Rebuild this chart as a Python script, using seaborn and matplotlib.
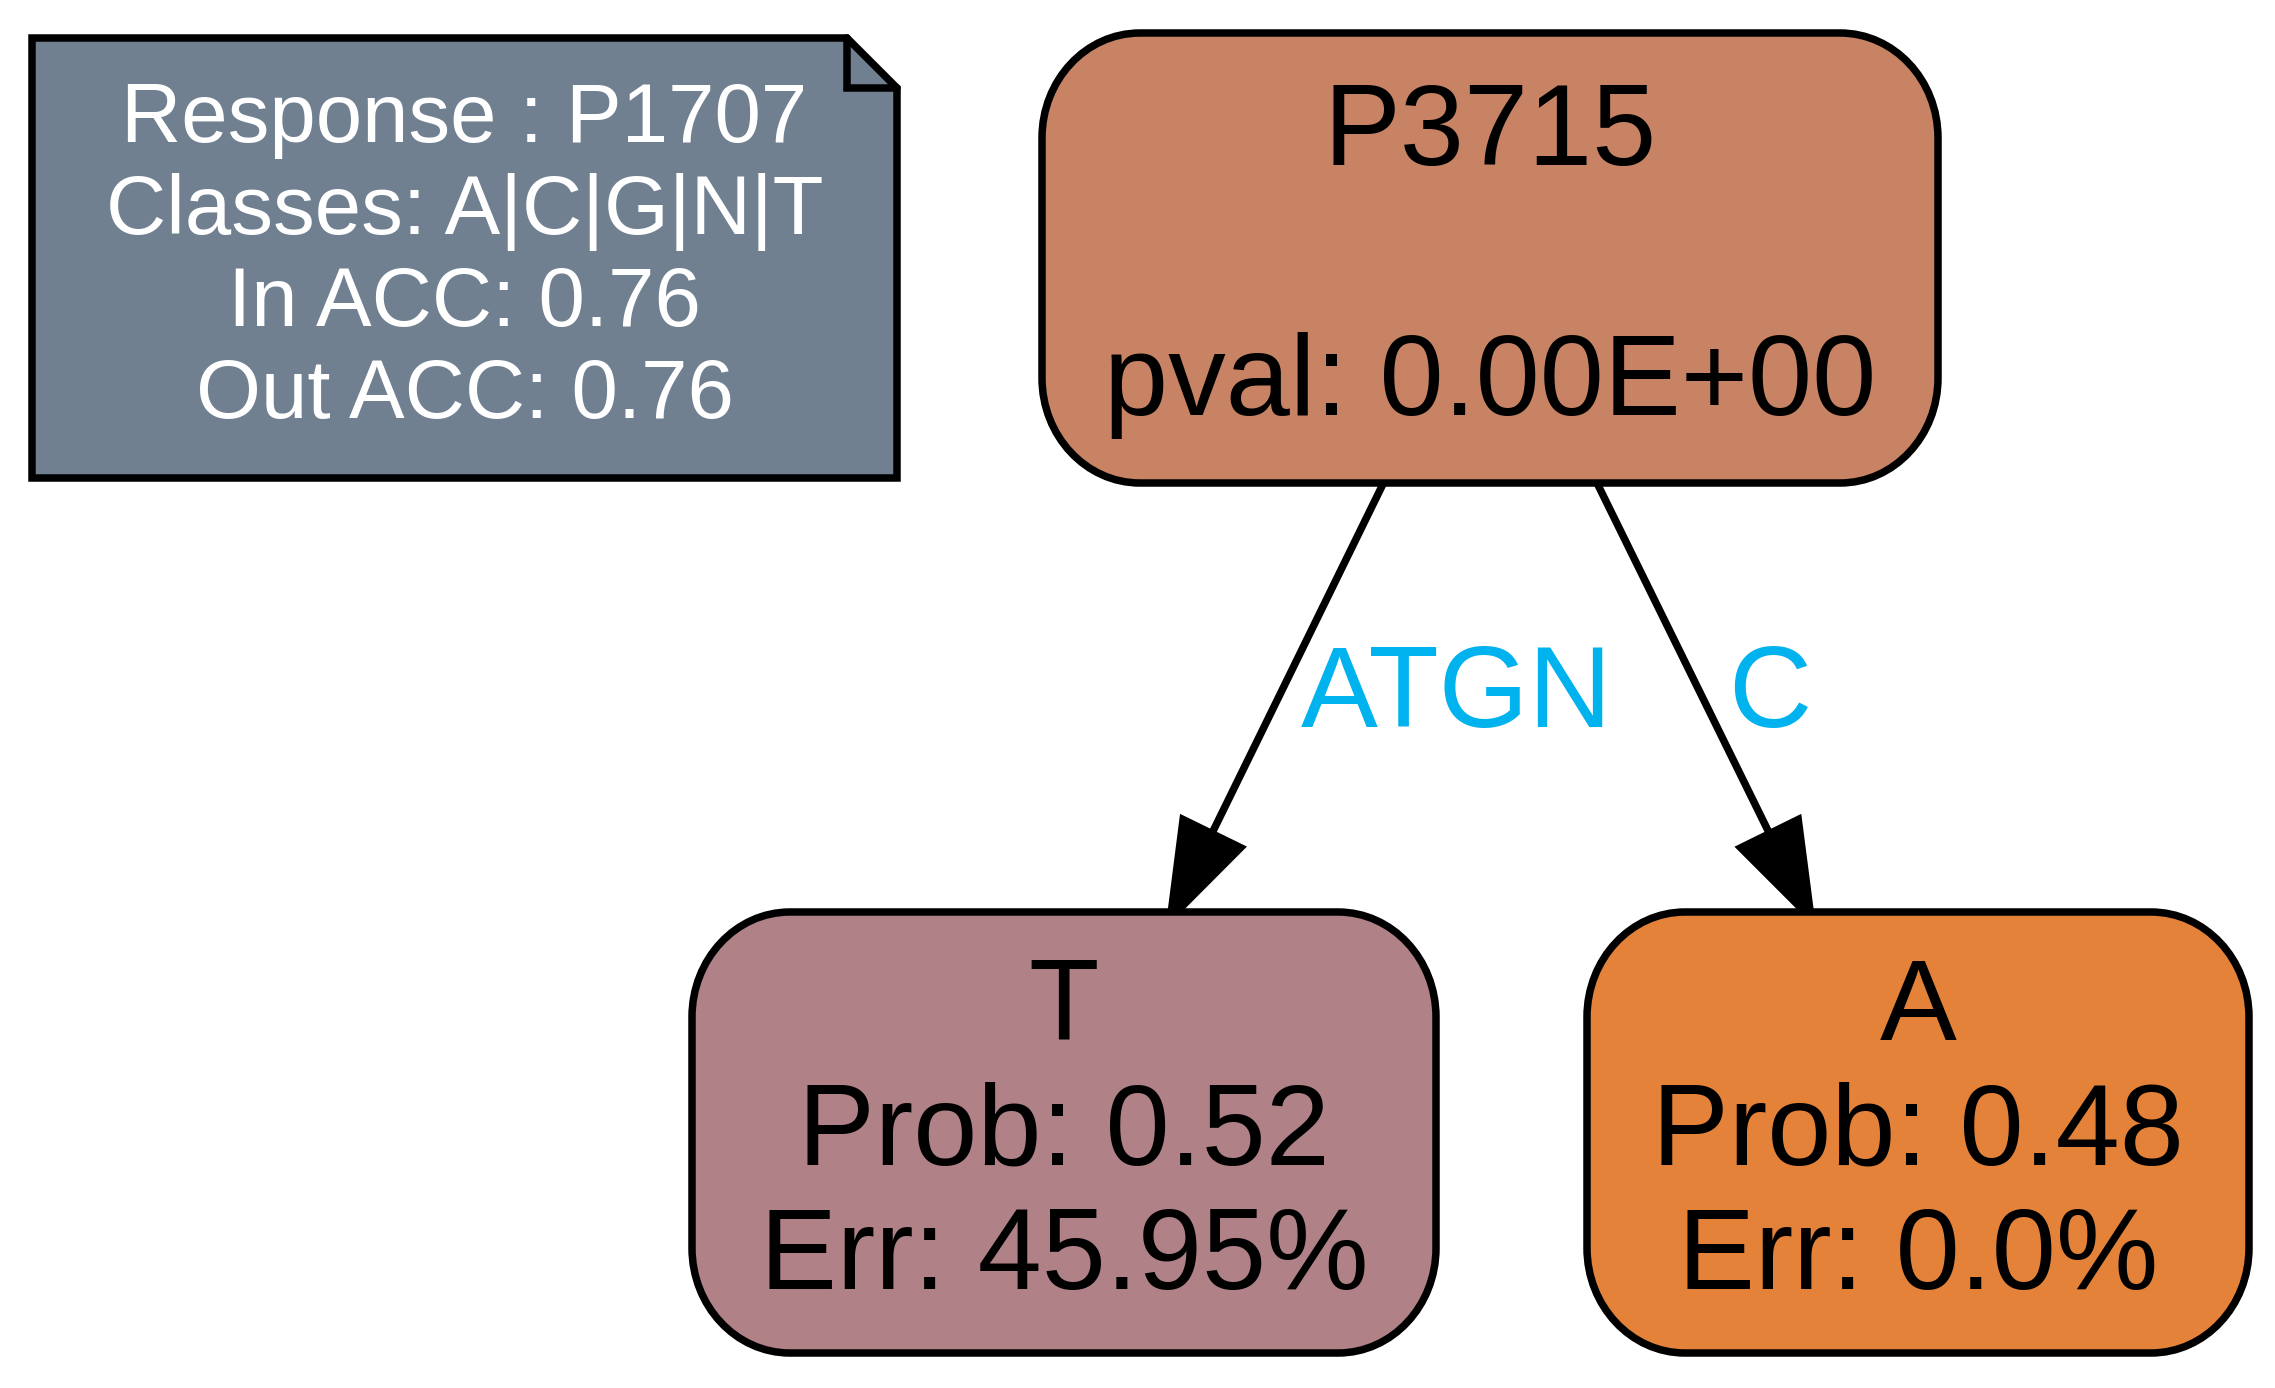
import numpy as np
import pandas as pd
import matplotlib
matplotlib.use("Agg")
import matplotlib.pyplot as plt
from matplotlib.patches import Polygon, PathPatch
from matplotlib.path import Path
import seaborn as sns

# ---- data ----
note_lines = ["Response : P1707", "Classes: A|C|G|N|T", "In ACC: 0.76", "Out ACC: 0.76"]
node_names = ["P3715", "T", "A"]
node_texts = [["P3715", "", "pval: 0.00E+00"],
              ["T", "Prob: 0.52", "Err: 45.95%"],
              ["A", "Prob: 0.48", "Err: 0.0%"]]
node_colors = ["#C88264", "#B08288", "#E5823A"]
edge_src = ["P3715", "P3715"]
edge_dst = ["T", "A"]
edge_labels = ["ATGN", "C"]

# ---- layout (pixels) ----
W, H = 2275, 1388
boxes = {"P3715": (1042, 33, 1938, 483),
         "T": (692, 912, 1436, 1353),
         "A": (1587, 912, 2249, 1353)}
note_box = (32, 38, 897, 478)
FOLD = 50
RX, RY = 98, 105
LINE_SP = 125
NOTE_SP = 92
NODE_FS = 83
NOTE_FS = 60
LW = 5.4
FONT = ["Liberation Sans", "DejaVu Sans"]

sns.set_theme(style="white")
plt.rcParams["font.family"] = FONT


def rounded_rect(x0, y0, x1, y1, rx, ry):
    k = 0.5523
    verts = [(x0 + rx, y0), (x1 - rx, y0),
             (x1 - rx + k * rx, y0), (x1, y0 + ry - k * ry), (x1, y0 + ry),
             (x1, y1 - ry),
             (x1, y1 - ry + k * ry), (x1 - rx + k * rx, y1), (x1 - rx, y1),
             (x0 + rx, y1),
             (x0 + rx - k * rx, y1), (x0, y1 - ry + k * ry), (x0, y1 - ry),
             (x0, y0 + ry),
             (x0, y0 + ry - k * ry), (x0 + rx - k * rx, y0), (x0 + rx, y0),
             (x0 + rx, y0)]
    codes = [Path.MOVETO, Path.LINETO,
             Path.CURVE4, Path.CURVE4, Path.CURVE4,
             Path.LINETO,
             Path.CURVE4, Path.CURVE4, Path.CURVE4,
             Path.LINETO,
             Path.CURVE4, Path.CURVE4, Path.CURVE4,
             Path.LINETO,
             Path.CURVE4, Path.CURVE4, Path.CURVE4,
             Path.CLOSEPOLY]
    return Path(verts, codes)


fig = plt.figure(figsize=(W / 100, H / 100), dpi=100)
ax = fig.add_axes([0, 0, 1, 1])
ax.set_xlim(0, W)
ax.set_ylim(H, 0)
ax.axis("off")

# note box with folded corner
x0, y0, x1, y1 = note_box
ax.add_patch(Polygon([(x0, y0), (x1 - FOLD, y0), (x1, y0 + FOLD), (x1, y1), (x0, y1)],
                     closed=True, facecolor="#708090", edgecolor="black", lw=LW, zorder=2,
                     joinstyle="miter"))
ax.plot([x1 - FOLD, x1 - FOLD, x1], [y0, y0 + FOLD, y0 + FOLD], color="black", lw=LW, zorder=3,
        solid_joinstyle="miter")
cx, cy = (x0 + x1) / 2, (y0 + y1) / 2
n = len(note_lines)
for i, t in enumerate(note_lines):
    ax.text(cx, cy + (i - (n - 1) / 2) * NOTE_SP + 22, t, ha="center", va="baseline",
            fontsize=NOTE_FS, color="white", zorder=4)

# nodes
for name, lines, col in zip(node_names, node_texts, node_colors):
    bx0, by0, bx1, by1 = boxes[name]
    ax.add_patch(PathPatch(rounded_rect(bx0, by0, bx1, by1, RX, RY),
                           facecolor=col, edgecolor="black", lw=LW, zorder=2))
    ncx, ncy = (bx0 + bx1) / 2, (by0 + by1) / 2
    n = len(lines)
    for i, t in enumerate(lines):
        ax.text(ncx, ncy + (i - (n - 1) / 2) * LINE_SP + 32, t, ha="center", va="baseline",
                fontsize=NODE_FS, color="black", zorder=4)

# edges
rows = []
heads = []
labels_pos = []
for k, (s, d) in enumerate(zip(edge_src, edge_dst)):
    sx0, sy0, sx1, sy1 = boxes[s]
    dx0, dy0, dx1, dy1 = boxes[d]
    scx = (sx0 + sx1) / 2
    dcx = (dx0 + dx1) / 2
    ddx = dcx - scx
    start = np.array([scx + 0.25 * ddx, sy1])
    tip = np.array([dcx - 0.25 * ddx, dy0 + 6])
    v = tip - start
    L = np.linalg.norm(v)
    u = v / L
    perp = np.array([-u[1], u[0]])
    hl, hw = 94, 32
    base = tip - u * hl
    rows.append({"edge": k, "x": start[0], "y": start[1]})
    rows.append({"edge": k, "x": base[0], "y": base[1]})
    heads.append([tip, base + perp * hw, base - perp * hw])
    mid = (start + tip) / 2
    labels_pos.append((mid[0] + 24, 727))

edges_df = pd.DataFrame(rows)
sns.lineplot(data=edges_df, x="x", y="y", units="edge", estimator=None, sort=False,
             color="black", lw=LW, ax=ax, legend=False, zorder=1)
for h in heads:
    ax.add_patch(Polygon(h, closed=True, facecolor="black", edgecolor="black", lw=LW,
                         zorder=1, joinstyle="miter"))
for (lx, ly), t in zip(labels_pos, edge_labels):
    ax.text(lx, ly, t, ha="left", va="baseline", fontsize=NODE_FS, color="#00B2EE", zorder=4)

ax.set_xlim(0, W)
ax.set_ylim(H, 0)
ax.set_xlabel("")
ax.set_ylabel("")
fig.savefig("out.png", dpi=100, facecolor="white")
